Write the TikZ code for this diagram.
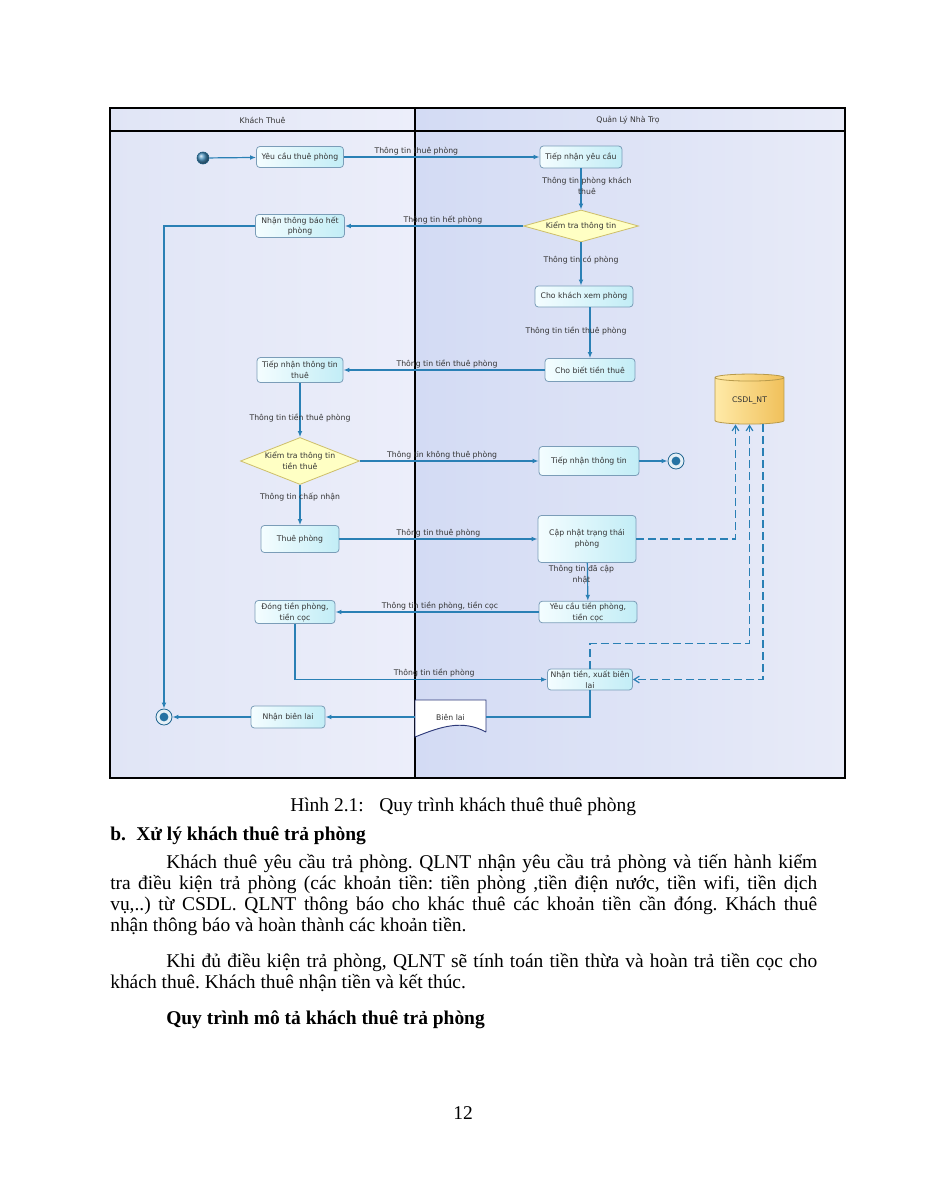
\documentclass[tikz,border=0pt]{standalone}
\usepackage{fontspec}
\setmainfont{Liberation Serif}
\newfontfamily\diafont{DejaVu Sans}
\usetikzlibrary{positioning,arrows.meta,shapes.geometric,calc}

\definecolor{flow}{HTML}{2A80B5}
\definecolor{boxline}{HTML}{7B9DB8}
\definecolor{actl}{HTML}{F4FDFF}
\definecolor{actr}{HTML}{C2EDF6}
\definecolor{condfill}{HTML}{FFFFC4}
\definecolor{condline}{HTML}{CDBE6A}
\definecolor{dbl}{HTML}{FFEAA8}
\definecolor{dbr}{HTML}{F0C05A}
\definecolor{dbedge}{HTML}{B89A4A}
\definecolor{txt}{HTML}{333333}
\definecolor{laneAl}{HTML}{E0E5F6}
\definecolor{laneAr}{HTML}{ECEEFA}
\definecolor{laneBl}{HTML}{D3DBF4}
\definecolor{laneBr}{HTML}{E8EBF8}
\definecolor{billedge}{HTML}{2E3A7A}

\newcommand\diatext{\diafont\fontsize{5.8pt}{8.2pt}\selectfont}
\newcommand\bodytext{\fontsize{14.6pt}{15.75pt}\selectfont\frenchspacing}

\tikzset{
  sz/.style 2 args={minimum width=#1*0.75pt, minimum height=#2*0.75pt},
  act/.style={draw=boxline, line width=0.6pt, rounded corners=2.5pt, left color=actl, right color=actr,
    inner sep=1pt, align=center, font=\diatext, text=txt},
  cond/.style={diamond, draw=condline, line width=0.6pt, fill=condfill, inner sep=0pt, align=center,
    font=\diatext, text=txt},
  final/.style={circle, draw=flow!80!black, line width=0.6pt, fill=flow!12, minimum size=12pt, inner sep=0pt,
    path picture={\fill[flow!90!black] (path picture bounding box.center) circle (3.3pt);}},
  lbl/.style={font=\diatext, text=txt, inner sep=1pt, align=center},
  flowline/.style={draw=flow, line width=0.9pt, -{Latex[length=4.5pt,width=3.6pt]}},
  dbflow/.style={draw=flow, line width=0.9pt, dash pattern=on 6pt off 3pt, -{Straight Barb[length=4pt,width=5pt]}},
  bodyline/.style={anchor=base west, inner sep=0pt, font=\bodytext},
}

\begin{document}
\begin{tikzpicture}[x=0.75pt,y=-0.75pt]
\useasboundingbox (0,0) rectangle (927,1200);
\fill[white] (0,0) rectangle (927,1200);

% lanes
\fill[left color=laneAl, right color=laneAr] (110,108) rectangle (415,778);
\fill[left color=laneBl, right color=laneBr] (415,108) rectangle (845,778);
\draw[line width=0.8pt] (110,108) rectangle (845,778);
\draw[line width=0.8pt] (110,131) -- (845,131);
\draw[line width=0.8pt] (415,108) -- (415,778);
\node[lbl] (laneguest) at (262.5,120) {Khách Thuê};
\node[lbl] (laneowner) at (628,120) {Quản Lý Nhà Trọ};

% document shape
\filldraw[fill=white, draw=billedge, line width=0.7pt] (486,732) -- (486,700) -- (415,700) -- (415,737)
  .. controls (440,727) and (462,719) .. (486,732);

% nodes
\node[circle, inner sep=0pt, minimum size=9pt, draw=flow!70!black, line width=0.5pt, ball color=flow!85] (start) at (203,158) {};
\node[act, sz={87}{21}] (req) at (300,157) {Yêu cầu thuê phòng};
\node[act, sz={82}{22}] (take) at (581,157) {Tiếp nhận yêu cầu};
\node[cond, aspect=3.6, sz={115}{32}] (check) at (581,226) {Kiểm tra thông tin};
\node[act, sz={89}{23}] (full) at (300,226) {Nhận thông báo hết\\phòng};
\node[act, sz={98}{21}] (show) at (584,296.5) {Cho khách xem phòng};
\node[act, sz={90}{23}] (price) at (590,370) {Cho biết tiền thuê};
\node[act, sz={86}{25}] (info) at (300,370) {Tiếp nhận thông tin\\thuê};
\node[cond, aspect=2.53, sz={119}{47}] (checkfee) at (300,461) {Kiểm tra thông tin\\tiền thuê};
\node[act, sz={100}{29}] (deny) at (589,461) {Tiếp nhận thông tin};
\node[final] (endno) at (676,461) {};
\node[act, sz={78}{27}] (rent) at (300,539) {Thuê phòng};
\node[act, sz={98}{47}] (upd) at (587,539) {Cập nhật trạng thái\\phòng};
\node[act, sz={98}{21}] (dep) at (588,612) {Yêu cầu tiền phòng,\\tiền cọc};
\node[act, sz={80}{23}] (pay) at (295,612) {Đóng tiền phòng,\\tiền cọc};
\node[act, sz={85}{21}] (recv) at (590,679.5) {Nhận tiền, xuất biên\\lai};
\node[lbl] (bill) at (450.5,717) {Biên lai};
\node[act, sz={74}{22}] (gotbill) at (288,717) {Nhận biên lai};
\node[final] (endok) at (164,717) {};
\node[cylinder, shape border rotate=90, aspect=0.2, draw=dbedge, line width=0.6pt, left color=dbl, right color=dbr,
  sz={69}{50}, inner sep=0pt, font=\diatext, text=txt] (db) at (749.5,401) {CSDL\_NT};

% flows
\draw[flowline] (start) -- (req);
\draw[flowline] (req) -- node[lbl, pos=0.37, above] {Thông tin thuê phòng} (take);
\draw[flowline] (take) -- node[lbl, pos=0.43, xshift=4.5pt] {Thông tin phòng khách\\thuê} (check);
\draw[flowline] (check) -- node[lbl, pos=0.45, above] {Thông tin hết phòng} (full);
\draw[flowline] (check) -- node[lbl, pos=0.41] {Thông tin có phòng} (check |- show.north);
\draw[flowline] (price |- show.south) -- node[lbl, pos=0.47, xshift=-10.5pt] {Thông tin tiền thuê phòng} (price);
\draw[flowline] (price) -- node[lbl, pos=0.485, above] {Thông tin tiền thuê phòng} (info);
\draw[flowline] (info) -- node[lbl, pos=0.64] {Thông tin tiền thuê phòng} (checkfee);
\draw[flowline] (checkfee) -- node[lbl, pos=0.46, above] {Thông tin không thuê phòng} (deny);
\draw[flowline] (deny) -- (endno);
\draw[flowline] (checkfee) -- node[lbl, pos=0.29] {Thông tin chấp nhận} (rent);
\draw[flowline] (rent) -- node[lbl, pos=0.5, above] {Thông tin thuê phòng} (upd);
\draw[flowline] (upd) -- node[lbl, pos=0.3, xshift=-4.5pt] {Thông tin đã cập\\nhật} (dep);
\draw[flowline] (dep) -- node[lbl, pos=0.485, above] {Thông tin tiền phòng, tiền cọc} (pay);
\draw[flowline] (pay) |- node[lbl, pos=0.776, above] {Thông tin tiền phòng} (recv);
\draw[draw=flow, line width=0.9pt] (recv) |- (bill.east -| 486,0);
\draw[flowline] (bill.west -| 415,0) -- (gotbill);
\draw[flowline] (gotbill) -- (endok);
\draw[flowline] (full) -| (endok);

% database links
\draw[dbflow] (upd) -| ($(db.south)+(-14,0)$);
\draw[dbflow] (recv) -- ++(0,-36) -| (db.south);
\draw[dbflow] ($(db.south)+(13.5,0)$) |- (recv);

% text below the picture
\node[bodyline] (caption) at (290,811) {\makebox[66.75pt][l]{Hình 2.1:}Quy trình khách thuê thuê phòng};
\node[bodyline, font=\bodytext\bfseries] (heading) at (110,840) {\makebox[19.5pt][l]{b.}Xử lý khách thuê trả phòng};
\node[bodyline] (pa1) at (166,868) {\makebox[488.25pt][s]{Khách thuê yêu cầu trả phòng. QLNT nhận yêu cầu trả phòng và tiến hành kiểm}};
\node[bodyline] (pa2) at (110,889) {\makebox[530.25pt][s]{tra điều kiện trả phòng (các khoản tiền: tiền phòng ,tiền điện nước, tiền wifi, tiền dịch}};
\node[bodyline] (pa3) at (110,910) {\makebox[530.25pt][s]{vụ,..) từ CSDL. QLNT thông báo cho khác thuê các khoản tiền cần đóng. Khách thuê}};
\node[bodyline] (pa4) at (110,931) {nhận thông báo và hoàn thành các khoản tiền.};
\node[bodyline] (pb1) at (166,967) {\makebox[488.25pt][s]{Khi đủ điều kiện trả phòng, QLNT sẽ tính toán tiền thừa và hoàn trả tiền cọc cho}};
\node[bodyline] (pb2) at (110,988) {khách thuê. Khách thuê nhận tiền và kết thúc.};
\node[bodyline, font=\bodytext\bfseries] (heading2) at (166,1024) {Quy trình mô tả khách thuê trả phòng};
\node[anchor=base, inner sep=0pt, font=\bodytext] (pageno) at (463,1119) {12};
\end{tikzpicture}
\end{document}
